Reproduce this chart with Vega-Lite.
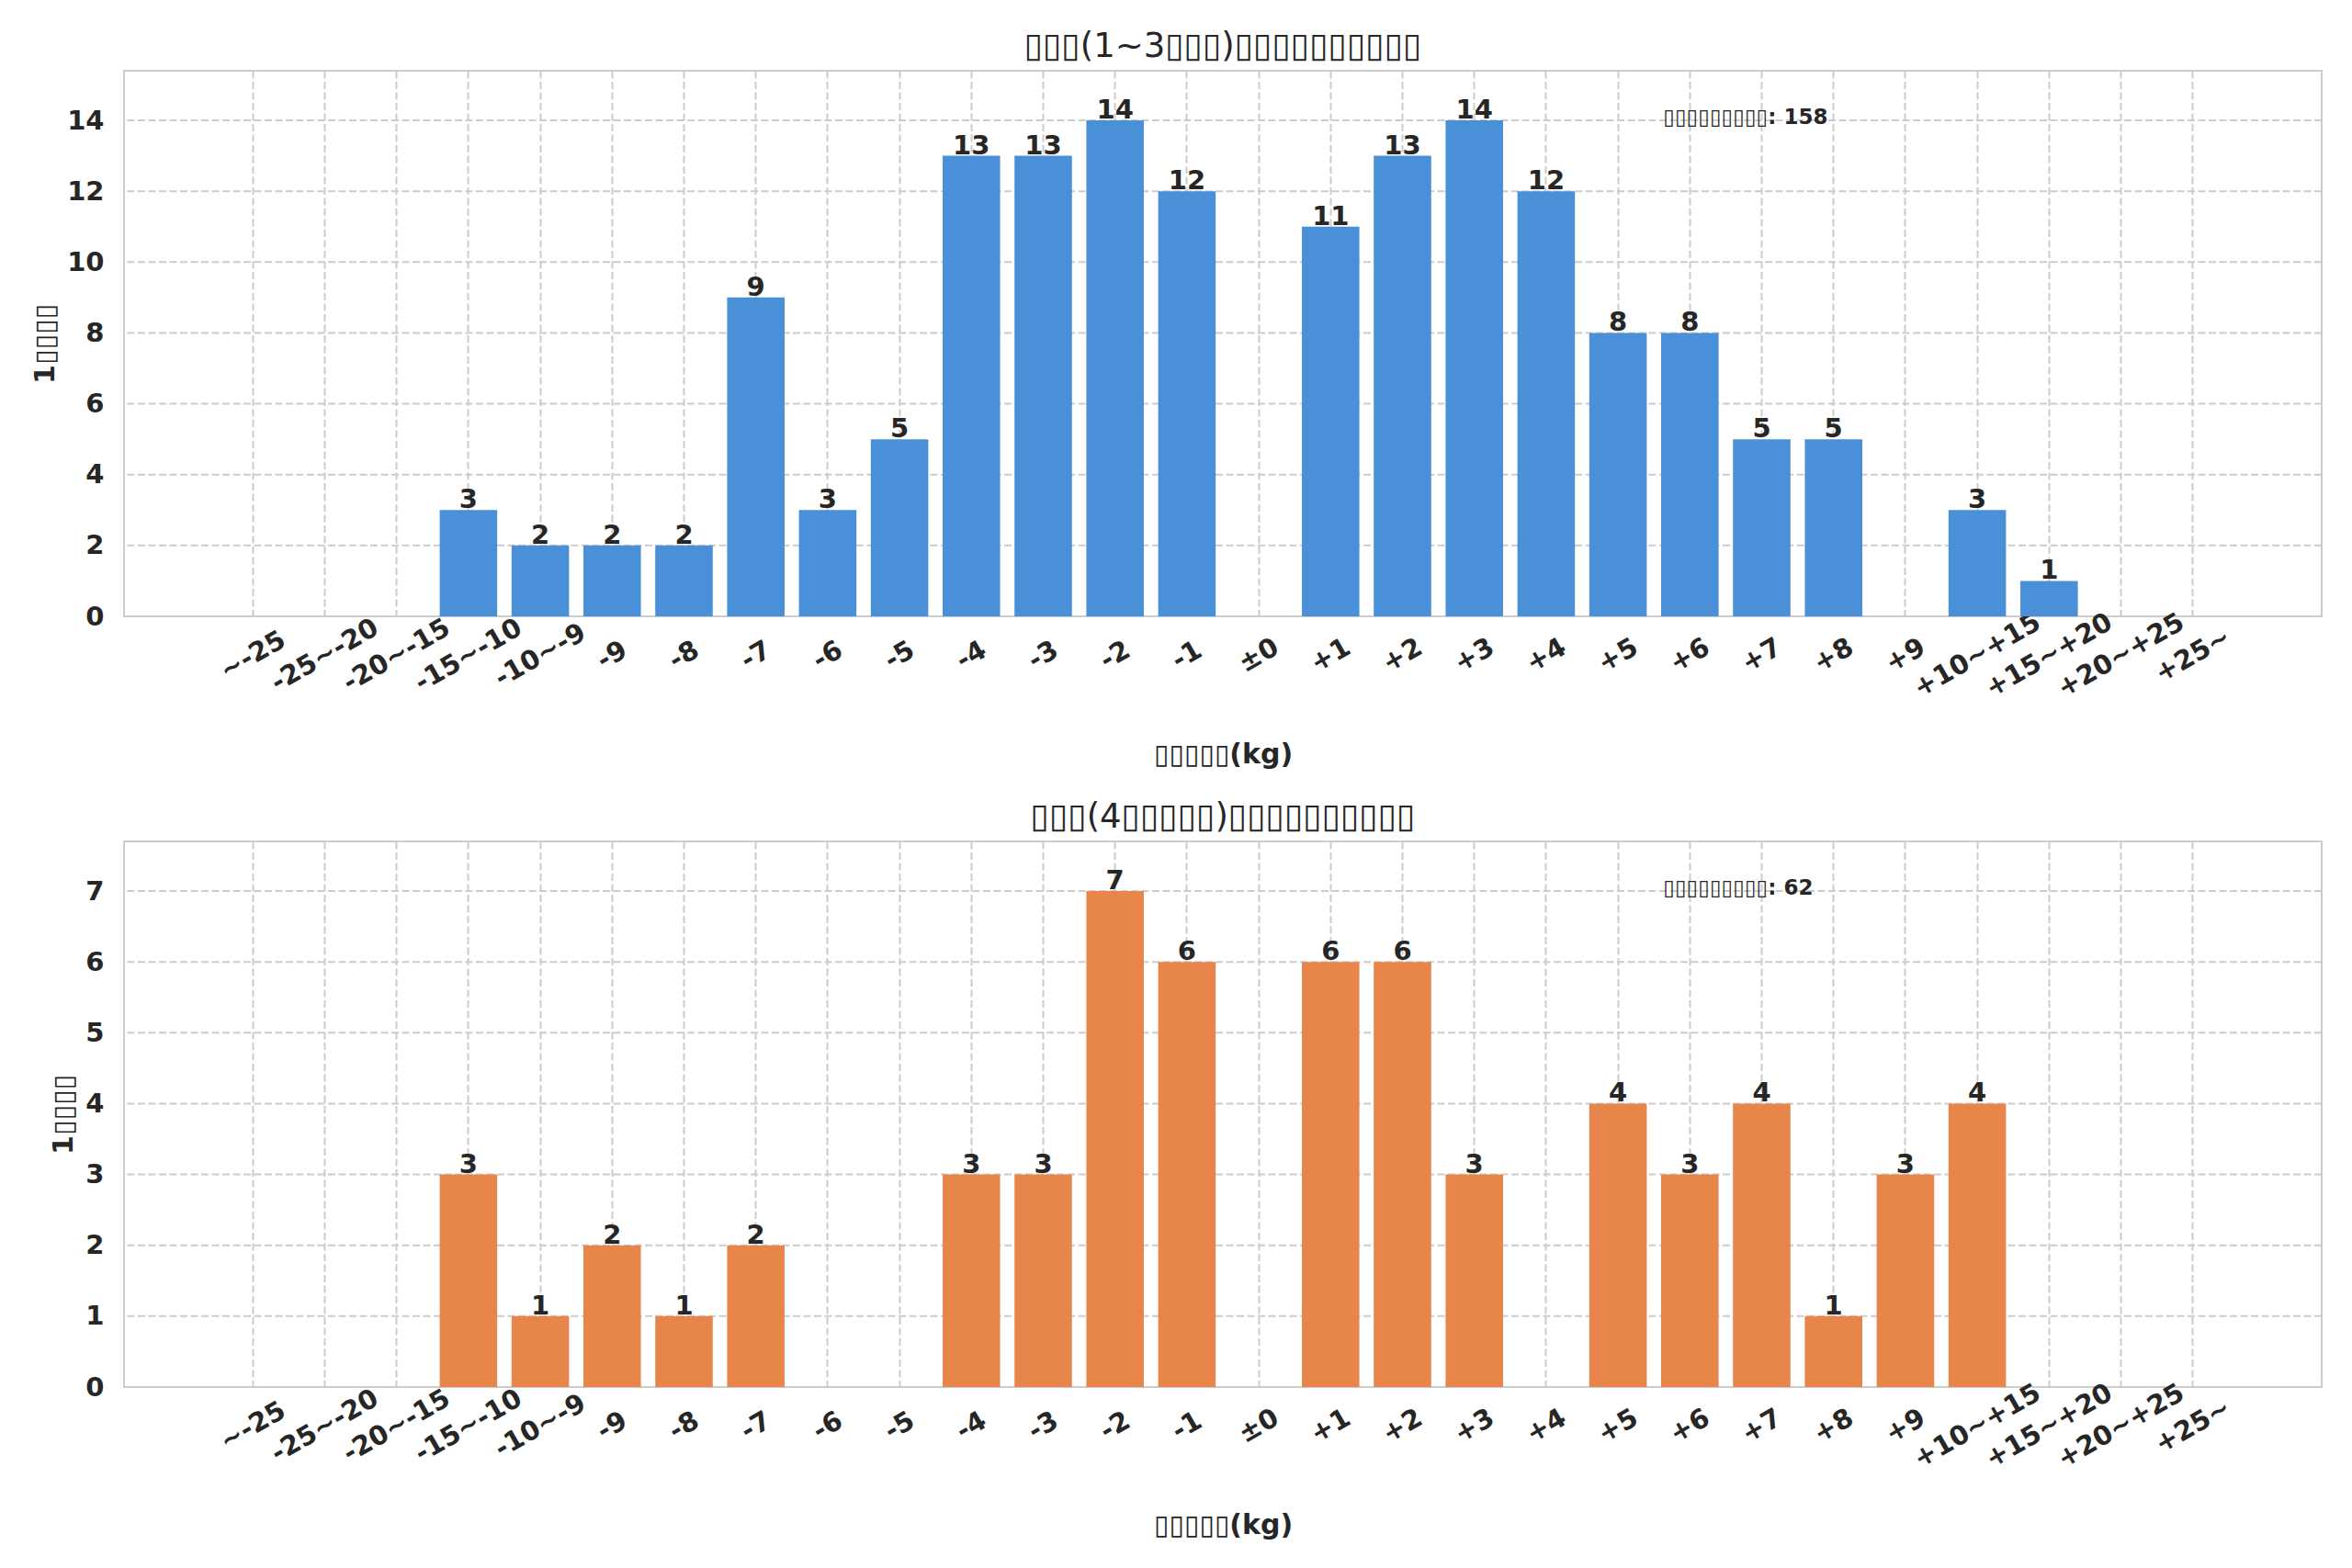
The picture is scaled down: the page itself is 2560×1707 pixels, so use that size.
{
  "$schema": "https://vega.github.io/schema/vega-lite/v6.json",
  "background": "white",
  "padding": {"left": 33, "top": 31, "right": 20, "bottom": 10},
  "config": {
    "font": "DejaVu Sans",
    "view": {"stroke": "#cccccc", "strokeWidth": 2},
    "title": {"fontSize": 37, "fontWeight": "normal", "color": "#262626", "anchor": "middle", "offset": 7, "font": "DejaVu Sans"},
    "axis": {
      "labelFont": "DejaVu Sans", "titleFont": "DejaVu Sans",
      "labelFontSize": 29, "labelFontWeight": "bold", "labelColor": "#262626",
      "titleFontSize": 30, "titleFontWeight": "bold", "titleColor": "#262626",
      "ticks": false, "domain": false,
      "grid": true, "gridColor": "#cccccc", "gridWidth": 2, "gridDash": [8, 3.5]
    },
    "concat": {"spacing": 32}
  },
  "datasets": {
    "bins": [
      {"group": "A", "bin": "~-25", "count": 0},
      {"group": "A", "bin": "-25~-20", "count": 0},
      {"group": "A", "bin": "-20~-15", "count": 0},
      {"group": "A", "bin": "-15~-10", "count": 3},
      {"group": "A", "bin": "-10~-9", "count": 2},
      {"group": "A", "bin": "-9", "count": 2},
      {"group": "A", "bin": "-8", "count": 2},
      {"group": "A", "bin": "-7", "count": 9},
      {"group": "A", "bin": "-6", "count": 3},
      {"group": "A", "bin": "-5", "count": 5},
      {"group": "A", "bin": "-4", "count": 13},
      {"group": "A", "bin": "-3", "count": 13},
      {"group": "A", "bin": "-2", "count": 14},
      {"group": "A", "bin": "-1", "count": 12},
      {"group": "A", "bin": "±0", "count": 0},
      {"group": "A", "bin": "+1", "count": 11},
      {"group": "A", "bin": "+2", "count": 13},
      {"group": "A", "bin": "+3", "count": 14},
      {"group": "A", "bin": "+4", "count": 12},
      {"group": "A", "bin": "+5", "count": 8},
      {"group": "A", "bin": "+6", "count": 8},
      {"group": "A", "bin": "+7", "count": 5},
      {"group": "A", "bin": "+8", "count": 5},
      {"group": "A", "bin": "+9", "count": 0},
      {"group": "A", "bin": "+10~+15", "count": 3},
      {"group": "A", "bin": "+15~+20", "count": 1},
      {"group": "A", "bin": "+20~+25", "count": 0},
      {"group": "A", "bin": "+25~", "count": 0},
      {"group": "B", "bin": "~-25", "count": 0},
      {"group": "B", "bin": "-25~-20", "count": 0},
      {"group": "B", "bin": "-20~-15", "count": 0},
      {"group": "B", "bin": "-15~-10", "count": 3},
      {"group": "B", "bin": "-10~-9", "count": 1},
      {"group": "B", "bin": "-9", "count": 2},
      {"group": "B", "bin": "-8", "count": 1},
      {"group": "B", "bin": "-7", "count": 2},
      {"group": "B", "bin": "-6", "count": 0},
      {"group": "B", "bin": "-5", "count": 0},
      {"group": "B", "bin": "-4", "count": 3},
      {"group": "B", "bin": "-3", "count": 3},
      {"group": "B", "bin": "-2", "count": 7},
      {"group": "B", "bin": "-1", "count": 6},
      {"group": "B", "bin": "±0", "count": 0},
      {"group": "B", "bin": "+1", "count": 6},
      {"group": "B", "bin": "+2", "count": 6},
      {"group": "B", "bin": "+3", "count": 3},
      {"group": "B", "bin": "+4", "count": 0},
      {"group": "B", "bin": "+5", "count": 4},
      {"group": "B", "bin": "+6", "count": 3},
      {"group": "B", "bin": "+7", "count": 4},
      {"group": "B", "bin": "+8", "count": 1},
      {"group": "B", "bin": "+9", "count": 3},
      {"group": "B", "bin": "+10~+15", "count": 4},
      {"group": "B", "bin": "+15~+20", "count": 0},
      {"group": "B", "bin": "+20~+25", "count": 0},
      {"group": "B", "bin": "+25~", "count": 0}
    ],
    "notes": [
      {"group": "A", "label": "▯▯▯▯▯▯▯▯▯: 158"},
      {"group": "B", "label": "▯▯▯▯▯▯▯▯▯: 62"}
    ],
    "ygrid": [
      {"group": "A", "v": 2}, {"group": "A", "v": 4}, {"group": "A", "v": 6}, {"group": "A", "v": 8},
      {"group": "A", "v": 10}, {"group": "A", "v": 12}, {"group": "A", "v": 14},
      {"group": "B", "v": 1}, {"group": "B", "v": 2}, {"group": "B", "v": 3}, {"group": "B", "v": 4},
      {"group": "B", "v": 5}, {"group": "B", "v": 6}, {"group": "B", "v": 7}
    ]
  },
  "vconcat": [
    {
      "width": 2392,
      "height": 594,
      "title": {"text": "▯▯▯(1~3▯▯▯)▯▯▯▯▯▯▯▯▯▯"},
      "layer": [
        {
          "data": {"name": "ygrid"},
          "transform": [{"filter": "datum.group === 'A'"}],
          "mark": {"type": "rule", "color": "#cccccc", "strokeWidth": 2, "strokeDash": [8, 3.5]},
          "encoding": {"y": {"field": "v", "type": "quantitative"}}
        },
        {
          "data": {"name": "bins"},
          "transform": [{"filter": "datum.group === 'A'"}],
          "mark": {"type": "bar", "color": "#4A90D9"},
          "encoding": {
            "x": {
              "field": "bin", "type": "nominal",
              "scale": {
                "domain": ["~-25", "-25~-20", "-20~-15", "-15~-10", "-10~-9", "-9", "-8", "-7", "-6", "-5", "-4", "-3", "-2", "-1", "±0", "+1", "+2", "+3", "+4", "+5", "+6", "+7", "+8", "+9", "+10~+15", "+15~+20", "+20~+25", "+25~"],
                "range": [109, 2283], "paddingInner": 0.2, "paddingOuter": 0
              },
              "axis": {"title": "▯▯▯▯▯(kg)", "labelAngle": -30, "labelAlign": "center", "labelBaseline": "middle", "labelPadding": 42, "labelOverlap": false, "labelBound": false, "labelFlush": false, "bandPosition": 0.5, "titlePadding": 42}
            },
            "y": {
              "field": "count", "type": "quantitative",
              "scale": {"domain": [0, 15.4], "nice": false},
              "axis": {"title": "1▯▯▯▯", "values": [0, 2, 4, 6, 8, 10, 12, 14], "format": "d", "grid": false, "labelPadding": 22, "titlePadding": 8}
            }
          }
        },
        {
          "data": {"name": "bins"},
          "transform": [{"filter": "datum.group === 'A' && datum.count > 0"}],
          "mark": {"type": "text", "baseline": "alphabetic", "dy": -2, "fontSize": 29, "fontWeight": "bold", "color": "#262626"},
          "encoding": {
            "x": {"field": "bin", "type": "nominal"},
            "y": {"field": "count", "type": "quantitative"},
            "text": {"field": "count", "type": "quantitative"}
          }
        },
        {
          "data": {"name": "notes"},
          "transform": [{"filter": "datum.group === 'A'"}],
          "mark": {"type": "text", "align": "left", "baseline": "middle", "dx": -29, "fontSize": 23, "fontWeight": "bold", "color": "#262626"},
          "encoding": {
            "x": {"datum": "+6"},
            "y": {"datum": 14.08},
            "text": {"field": "label"}
          }
        }
      ]
    },
    {
      "width": 2392,
      "height": 594,
      "title": {"text": "▯▯▯(4▯▯▯▯▯)▯▯▯▯▯▯▯▯▯▯"},
      "layer": [
        {
          "data": {"name": "ygrid"},
          "transform": [{"filter": "datum.group === 'B'"}],
          "mark": {"type": "rule", "color": "#cccccc", "strokeWidth": 2, "strokeDash": [8, 3.5]},
          "encoding": {"y": {"field": "v", "type": "quantitative"}}
        },
        {
          "data": {"name": "bins"},
          "transform": [{"filter": "datum.group === 'B'"}],
          "mark": {"type": "bar", "color": "#E8854A"},
          "encoding": {
            "x": {
              "field": "bin", "type": "nominal",
              "scale": {
                "domain": ["~-25", "-25~-20", "-20~-15", "-15~-10", "-10~-9", "-9", "-8", "-7", "-6", "-5", "-4", "-3", "-2", "-1", "±0", "+1", "+2", "+3", "+4", "+5", "+6", "+7", "+8", "+9", "+10~+15", "+15~+20", "+20~+25", "+25~"],
                "range": [109, 2283], "paddingInner": 0.2, "paddingOuter": 0
              },
              "axis": {"title": "▯▯▯▯▯(kg)", "labelAngle": -30, "labelAlign": "center", "labelBaseline": "middle", "labelPadding": 42, "labelOverlap": false, "labelBound": false, "labelFlush": false, "bandPosition": 0.5, "titlePadding": 42}
            },
            "y": {
              "field": "count", "type": "quantitative",
              "scale": {"domain": [0, 7.7], "nice": false},
              "axis": {"title": "1▯▯▯▯", "values": [0, 1, 2, 3, 4, 5, 6, 7], "format": "d", "grid": false, "labelPadding": 22, "titlePadding": 8}
            }
          }
        },
        {
          "data": {"name": "bins"},
          "transform": [{"filter": "datum.group === 'B' && datum.count > 0"}],
          "mark": {"type": "text", "baseline": "alphabetic", "dy": -2, "fontSize": 29, "fontWeight": "bold", "color": "#262626"},
          "encoding": {
            "x": {"field": "bin", "type": "nominal"},
            "y": {"field": "count", "type": "quantitative"},
            "text": {"field": "count", "type": "quantitative"}
          }
        },
        {
          "data": {"name": "notes"},
          "transform": [{"filter": "datum.group === 'B'"}],
          "mark": {"type": "text", "align": "left", "baseline": "middle", "dx": -29, "fontSize": 23, "fontWeight": "bold", "color": "#262626"},
          "encoding": {
            "x": {"datum": "+6"},
            "y": {"datum": 7.04},
            "text": {"field": "label"}
          }
        }
      ]
    }
  ]
}
